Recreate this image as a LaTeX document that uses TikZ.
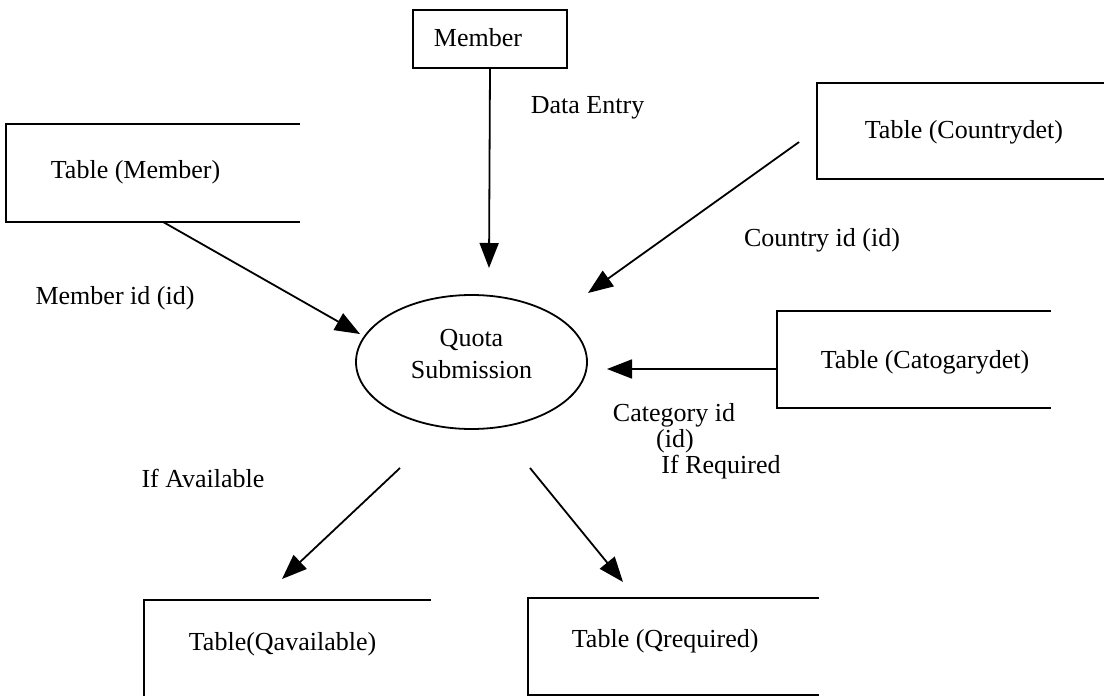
\documentclass[tikz,border=0pt]{standalone}
\usepackage{fontspec}
\setmainfont{Liberation Serif}
\usetikzlibrary{arrows.meta,shapes.geometric}
\begin{document}
\begin{tikzpicture}[x=1pt,y=-1pt,
  line width=1.8pt,
  every node/.style={font=\fontsize{26}{32}\selectfont},
  boxframe/.style={rectangle, inner sep=0pt},
  boxtext/.style={anchor=west, inner sep=0pt},
  bubble/.style={draw, ellipse, inner sep=0pt,
    minimum width=231pt, minimum height=134pt},
  flow/.style={-{Triangle[length=25pt,width=19pt]}},
  tag/.style={inner sep=0pt}
]
\clip (0,0) rectangle (1104,696);

% external entity
\node[boxframe, draw, minimum width=154pt, minimum height=58pt] (mem) at (490,39) {};
\node[boxtext] (memt) at (433,38) {Member};

% data stores, open on the right
\node[boxframe, minimum width=292pt, minimum height=96pt] (tm) at (153,173) {};
\node[boxframe, minimum width=300pt, minimum height=94pt] (cd) at (968,131) {};
\node[boxframe, minimum width=272pt, minimum height=95pt] (cat) at (914,359.5) {};
\node[boxframe, minimum width=285pt, minimum height=97pt] (qa) at (287.5,649.5) {};
\node[boxframe, minimum width=289pt, minimum height=95pt] (qr) at (673.5,646.5) {};

\foreach \s in {tm,cd,cat,qa,qr}
  \draw (\s.north east) -- (\s.north west) -- (\s.south west) -- (\s.south east);

\node[boxtext] (tmt) at (50,172) {Table (Member)};
\node[boxtext] (cdt) at (864,132) {Table (Countrydet)};
\node[boxtext] (catt) at (820,362) {Table (Catogarydet)};
\node[boxtext] (qat) at (188,644) {Table(Qavailable)};
\node[boxtext] (qrt) at (571,641) {Table (Qrequired)};

% process
\node[bubble] (qs) at (471.5,362) {};
\node[tag, align=center] (qst) at (471.5,354) {Quota\\Submission};

% flow end points
\coordinate (p0) at (489,268);
\coordinate (p1) at (360,334);
\coordinate (p2) at (588,293);
\coordinate (p3) at (607,369);
\coordinate (p4) at (282,579);
\coordinate (p5) at (623,582);
\coordinate (s4) at (400,468);
\coordinate (s5) at (530,468);

% flows
\draw[flow] (mem.south) -- (p0);
\draw[flow] ([xshift=10pt]tm.south) -- (p1);
\draw[flow] ([xshift=-18pt,yshift=-11pt]cd.west) -- (p2);
\draw[flow] ([yshift=-9.5pt]cat.west) -- (p3);
\draw[flow] (s4) -- (p4);
\draw[flow] (s5) -- (p5);

% flow labels
\node[tag, anchor=west] (l0) at (530,108) {Data Entry};
\node[tag] (l1) at (115,298) {Member id (id)};
\node[tag] (l2) at (822,240) {Country id (id)};
\node[tag] (l3a) at (674,415) {Category id};
\node[tag] (l3b) at (675,441) {(id)};
\node[tag] (l4) at (203,478) {If Available};
\node[tag] (l5) at (721,467) {If Required};
\end{tikzpicture}
\end{document}
